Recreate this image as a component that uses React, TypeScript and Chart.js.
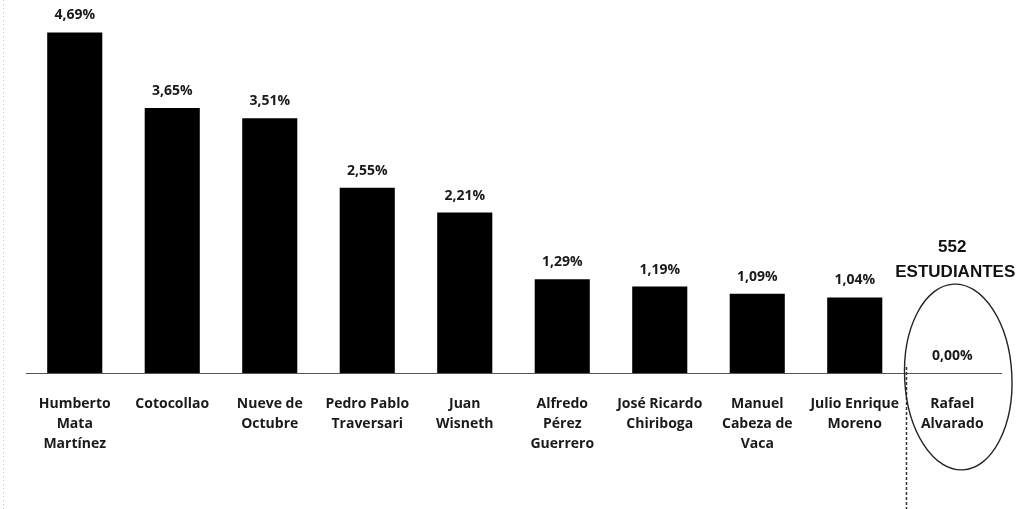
import React, { useEffect, useRef } from "react";
import { Chart, registerables } from "chart.js";

Chart.register(...registerables);

const categories: string[][] = [
  ["Humberto", "Mata", "Martínez"],
  ["Cotocollao"],
  ["Nueve de", "Octubre"],
  ["Pedro Pablo", "Traversari"],
  ["Juan", "Wisneth"],
  ["Alfredo", "Pérez", "Guerrero"],
  ["José Ricardo", "Chiriboga"],
  ["Manuel", "Cabeza de", "Vaca"],
  ["Julio Enrique", "Moreno"],
  ["Rafael", "Alvarado"],
];
const values: number[] = [4.69, 3.65, 3.51, 2.55, 2.21, 1.29, 1.19, 1.09, 1.04, 0.0];
const calloutLines: string[] = ["552", "ESTUDIANTES"];
const highlightIndex = 9;

const fmt = (v: number) => v.toFixed(2).replace(".", ",") + "%";

const labelPlugin = {
  id: "valueLabels",
  afterDatasetsDraw(chart: any) {
    const ctx = chart.ctx;
    const meta = chart.getDatasetMeta(0);
    ctx.save();
    ctx.fillStyle = "#1a1a1a";
    ctx.font = "bold 14px 'Open Sans'";
    ctx.textAlign = "center";
    ctx.textBaseline = "middle";
    meta.data.forEach((bar: any, i: number) => {
      ctx.fillText(fmt(values[i]), bar.x, bar.y - 17);
    });
    ctx.restore();
  },
};

const calloutPlugin = {
  id: "callout",
  afterDraw(chart: any) {
    const ctx = chart.ctx;
    const xs = chart.scales.x;
    const area = chart.chartArea;
    const cx = xs.getPixelForValue(highlightIndex);
    const step = xs.getPixelForValue(1) - xs.getPixelForValue(0);
    const boundary = (xs.getPixelForValue(highlightIndex - 1) + cx) / 2;
    ctx.save();
    // vertical dashed divider
    ctx.strokeStyle = "#333";
    ctx.lineWidth = 1.5;
    ctx.setLineDash([3, 2]);
    ctx.beginPath();
    ctx.moveTo(boundary + 3, area.bottom - 6);
    ctx.lineTo(boundary + 3, chart.height);
    ctx.stroke();
    // left dotted border
    ctx.strokeStyle = "#bbb";
    ctx.lineWidth = 1;
    ctx.setLineDash([1, 3]);
    ctx.beginPath();
    ctx.moveTo(3.5, 0);
    ctx.lineTo(3.5, chart.height);
    ctx.stroke();
    ctx.setLineDash([]);
    // ellipse
    ctx.strokeStyle = "#222";
    ctx.lineWidth = 1.4;
    ctx.beginPath();
    ctx.ellipse(cx + 6, area.bottom + 4, step * 0.55, 93, -0.05, 0, Math.PI * 2);
    ctx.stroke();
    // callout text
    ctx.fillStyle = "#111";
    ctx.font = "bold 17px 'Liberation Sans'";
    ctx.textAlign = "center";
    ctx.textBaseline = "middle";
    ctx.fillText(calloutLines[0], cx, 247);
    ctx.fillText(calloutLines[1], cx + 3, 272);
    ctx.restore();
  },
};

export default function App() {
  const ref = useRef<HTMLCanvasElement | null>(null);
  useEffect(() => {
    if (!ref.current) return;
    const chart = new Chart(ref.current, {
      type: "bar",
      data: {
        labels: categories,
        datasets: [
          {
            data: values,
            backgroundColor: "#000000",
            categoryPercentage: 1,
            barPercentage: 0.565,
          },
        ],
      },
      options: {
        animation: false,
        responsive: true,
        maintainAspectRatio: false,
        layout: { padding: { left: 26, right: 15, top: 10, bottom: 0 } },
        plugins: { legend: { display: false }, tooltip: { enabled: false } },
        scales: {
          y: { display: false, min: 0, max: 5 },
          x: {
            grid: { display: false, drawTicks: false },
            border: { display: true, color: "#555", width: 1, dash: [3, 1] },
            ticks: {
              color: "#1a1a1a",
              padding: 21,
              maxRotation: 0,
              autoSkip: false,
              font: { family: "'Open Sans'", size: 14, weight: "bold", lineHeight: 1.43 },
            },
            afterFit: (s: any) => {
              s.height = 136;
            },
          },
        },
      },
      plugins: [labelPlugin, calloutPlugin],
    } as any);
    return () => chart.destroy();
  }, []);
  return (
    <div style={{ position: "fixed", left: 0, top: 0, width: 1016, height: 509, background: "#fff" }}>
      <canvas ref={ref} />
    </div>
  );
}
